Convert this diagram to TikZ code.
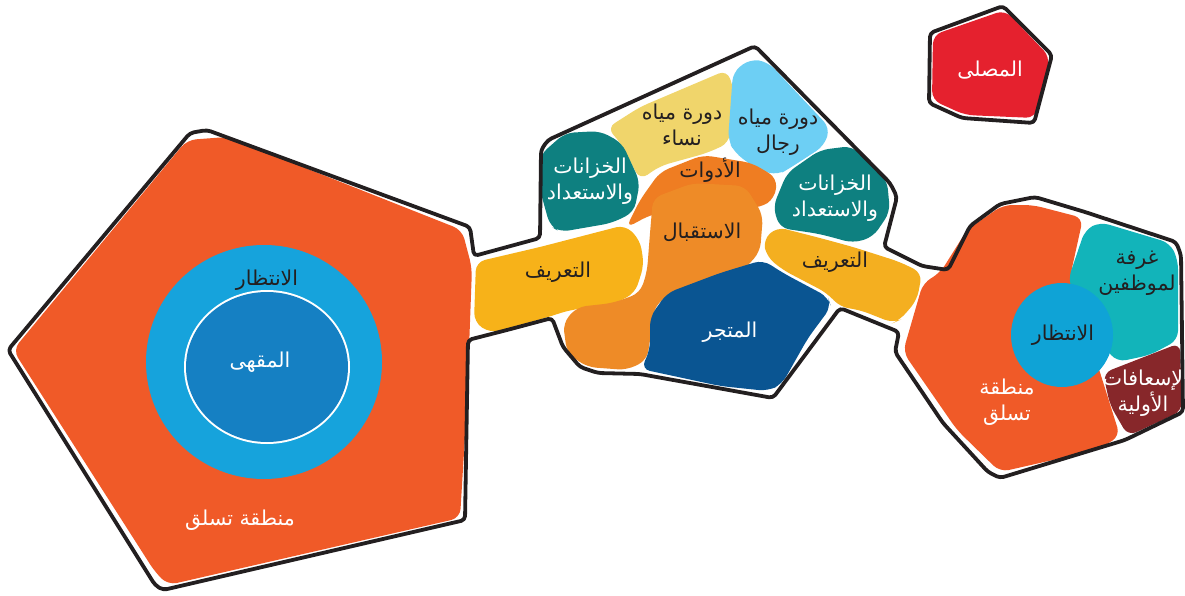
\documentclass[tikz,border=0pt]{standalone}
\usepackage{fontspec}
\newfontfamily\arabicfont[Script=Arabic]{DejaVu Sans}
\TeXXeTstate=1
\definecolor{bigorange}{RGB}{240,90,40}
\definecolor{ringblue}{RGB}{22,163,220}
\definecolor{cafeblue}{RGB}{21,128,195}
\definecolor{yellowA}{RGB}{247,178,25}
\definecolor{yellowB}{RGB}{244,175,32}
\definecolor{paleyellow}{RGB}{240,213,107}
\definecolor{paleblue}{RGB}{109,207,244}
\definecolor{darkteal}{RGB}{14,128,128}
\definecolor{toolorange}{RGB}{239,125,34}
\definecolor{recorange}{RGB}{238,139,39}
\definecolor{storeblue}{RGB}{10,85,146}
\definecolor{lightteal}{RGB}{18,180,186}
\definecolor{darkred}{RGB}{135,39,42}
\definecolor{waitblue}{RGB}{15,163,214}
\definecolor{prayred}{RGB}{229,33,46}
\definecolor{ink}{RGB}{35,31,32}
\tikzset{
  blob/.style={rounded corners=9pt},
  wall/.style={draw=ink, line width=3.8pt, rounded corners=4pt, line join=round},
  lbl/.style={font=\arabicfont\fontsize{20.5}{26}\selectfont, align=center, inner sep=0pt},
  dark/.style={lbl, text=ink},
  light/.style={lbl, text=white}
}
\begin{document}
\begin{tikzpicture}[x=1pt,y=-1pt]
\useasboundingbox (0,0) rectangle (1185,596);
% ---------- left pentagon ----------
\fill[bigorange, blob] (13,350) -- (187,140) -- (227,137) -- (462,230) -- (472,268) -- (467,403) -- (460,518) -- (168,585) -- (155,572) -- cycle;
\fill[ringblue] (264,362) ellipse (118pt and 117pt);
\fill[white] (267,367) ellipse (83pt and 77pt);
\fill[cafeblue] (267,367) ellipse (81pt and 75pt);
% ---------- middle pentagon ----------
\fill[paleyellow, blob] (607,128) -- (640,107) -- (727,70) -- (734,90) -- (729,143) -- (707,153) -- (660,166) -- (640,180) -- (620,142) -- cycle;
\fill[paleblue, blob] (733,72) -- (750,59) -- (768,62) -- (830,128) -- (824,146) -- (790,168) -- (778,175) -- (758,170) -- (735,153) -- (728,140) -- cycle;
\fill[darkteal, blob] (540,155) -- (565,133) -- (600,131) -- (622,143) -- (640,182) -- (634,212) -- (612,223) -- (560,232) -- (550,226) -- (540,190) -- cycle;
\fill[darkteal, blob] (773,207) -- (787,173) -- (820,150) -- (852,146) -- (887,180) -- (890,212) -- (873,237) -- (853,243) -- (820,234) -- (780,228) -- cycle;
\fill[yellowA, blob] (476,262) -- (540,247) -- (625,225) -- (640,240) -- (644,265) -- (635,293) -- (612,305) -- (570,310) -- (545,318) -- (490,333) -- (474,322) -- cycle;
\fill[yellowB, blob] (763,240) -- (777,227) -- (820,238) -- (853,247) -- (900,262) -- (922,273) -- (917,300) -- (900,320) -- (893,323) -- (860,310) -- (840,307) -- (827,293) -- (783,270) -- (767,257) -- cycle;
\fill[toolorange, blob] (626,228) -- (640,200) -- (660,172) -- (703,155) -- (752,163) -- (777,178) -- (775,198) -- (760,208) -- (700,205) -- (650,215) -- cycle;
\fill[recorange, blob] (653,198) -- (693,183) -- (745,186) -- (763,215) -- (760,252) -- (737,277) -- (680,288) -- (655,305) -- (650,340) -- (647,360) -- (627,370) -- (587,367) -- (567,353) -- (563,323) -- (577,307) -- (613,303) -- (640,293) -- (647,272) -- (650,233) -- cycle;
\fill[storeblue, blob] (641,369) -- (650,350) -- (650,317) -- (667,293) -- (720,273) -- (763,260) -- (783,273) -- (828,297) -- (831,307) -- (808,338) -- (782,384) -- (768,391) -- (720,386) -- cycle;
% ---------- right blob ----------
\fill[bigorange, blob] (903,352) -- (923,283) -- (940,273) -- (967,230) -- (1003,205) -- (1033,205) -- (1083,218) -- (1070,277) -- (1120,436) -- (1097,450) -- (1000,472) -- (957,430) -- cycle;
\fill[lightteal, blob] (1068,280) -- (1085,230) -- (1100,222) -- (1170,243) -- (1178,260) -- (1178,340) -- (1150,355) -- (1117,362) -- (1090,330) -- cycle;
\fill[darkred, blob] (1103,373) -- (1180,343) -- (1182,411) -- (1128,436) -- (1110,405) -- cycle;
\fill[waitblue] (1062,335) ellipse (51pt and 52pt);
% ---------- red pentagon ----------
\fill[prayred, blob] (1005,10) -- (1050,57) -- (1035,118) -- (965,115) -- (932,100) -- (933,35) -- cycle;
\draw[wall] (1003,6) -- (1052,55) -- (1034,123) -- (962,118) -- (929,103) -- (930,33) -- cycle;
% ---------- main outline ----------
\draw[wall] (8,350) -- (190,133) -- (207,130) -- (470,227) -- (474,256) -- (540,238) -- (541,150) -- (548,140) -- (755,46) -- (890,183) -- (897,197) -- (884,247) -- (922,266) -- (948,270) -- (970,226) -- (1000,204) -- (1035,197) -- (1085,212) -- (1176,242) -- (1181,255) -- (1183,412) -- (1125,440) -- (1000,478) -- (988,472) -- (943,423) -- (895,352) -- (899,332) -- (840,308) -- (773,398) -- (640,374) -- (598,373) -- (580,367) -- (563,347) -- (552,318) -- (507,330) -- (468,340) -- (465,520) -- (163,590) -- (155,585) -- cycle;
% ---------- labels ----------
\node[dark]  (waitL)  at (267,280) {\beginR الانتظار\endR};
\node[light] (cafe)   at (260,362) {\beginR المقهى\endR};
\node[light] (climbL) at (240,520) {\beginR منطقة تسلق\endR};
\node[dark]  (introL) at (558,272) {\beginR التعريف\endR};
\node[light] (lockL)  at (590,181) {\beginR الخزانات\endR\\\beginR والاستعداد\endR};
\node[dark]  (wcW)    at (682,125) {\beginR دورة مياه\endR\\\beginR نساء\endR};
\node[dark]  (wcM)    at (778,132) {\beginR دورة مياه\endR\\\beginR رجال\endR};
\node[dark]  (tools)  at (710,170) {\beginR الأدوات\endR};
\node[dark]  (recep)  at (702,232) {\beginR الاستقبال\endR};
\node[light] (lockR)  at (835,198) {\beginR الخزانات\endR\\\beginR والاستعداد\endR};
\node[dark]  (introR) at (835,262) {\beginR التعريف\endR};
\node[light] (store)  at (730,332) {\beginR المتجر\endR};
\node[dark]  (staff)  at (1137,273) {\beginR غرفة\endR\\\beginR لموظفين\endR};
\node[dark]  (waitR)  at (1063,335) {\beginR الانتظار\endR};
\node[light] (aid)    at (1143,393) {\beginR لإسعافات\endR\\\beginR الأولية\endR};
\node[light] (climbR) at (1007,402) {\beginR منطقة\endR\\\beginR تسلق\endR};
\node[light] (pray)   at (990,70)   {\beginR المصلى\endR};
\end{tikzpicture}
\end{document}
